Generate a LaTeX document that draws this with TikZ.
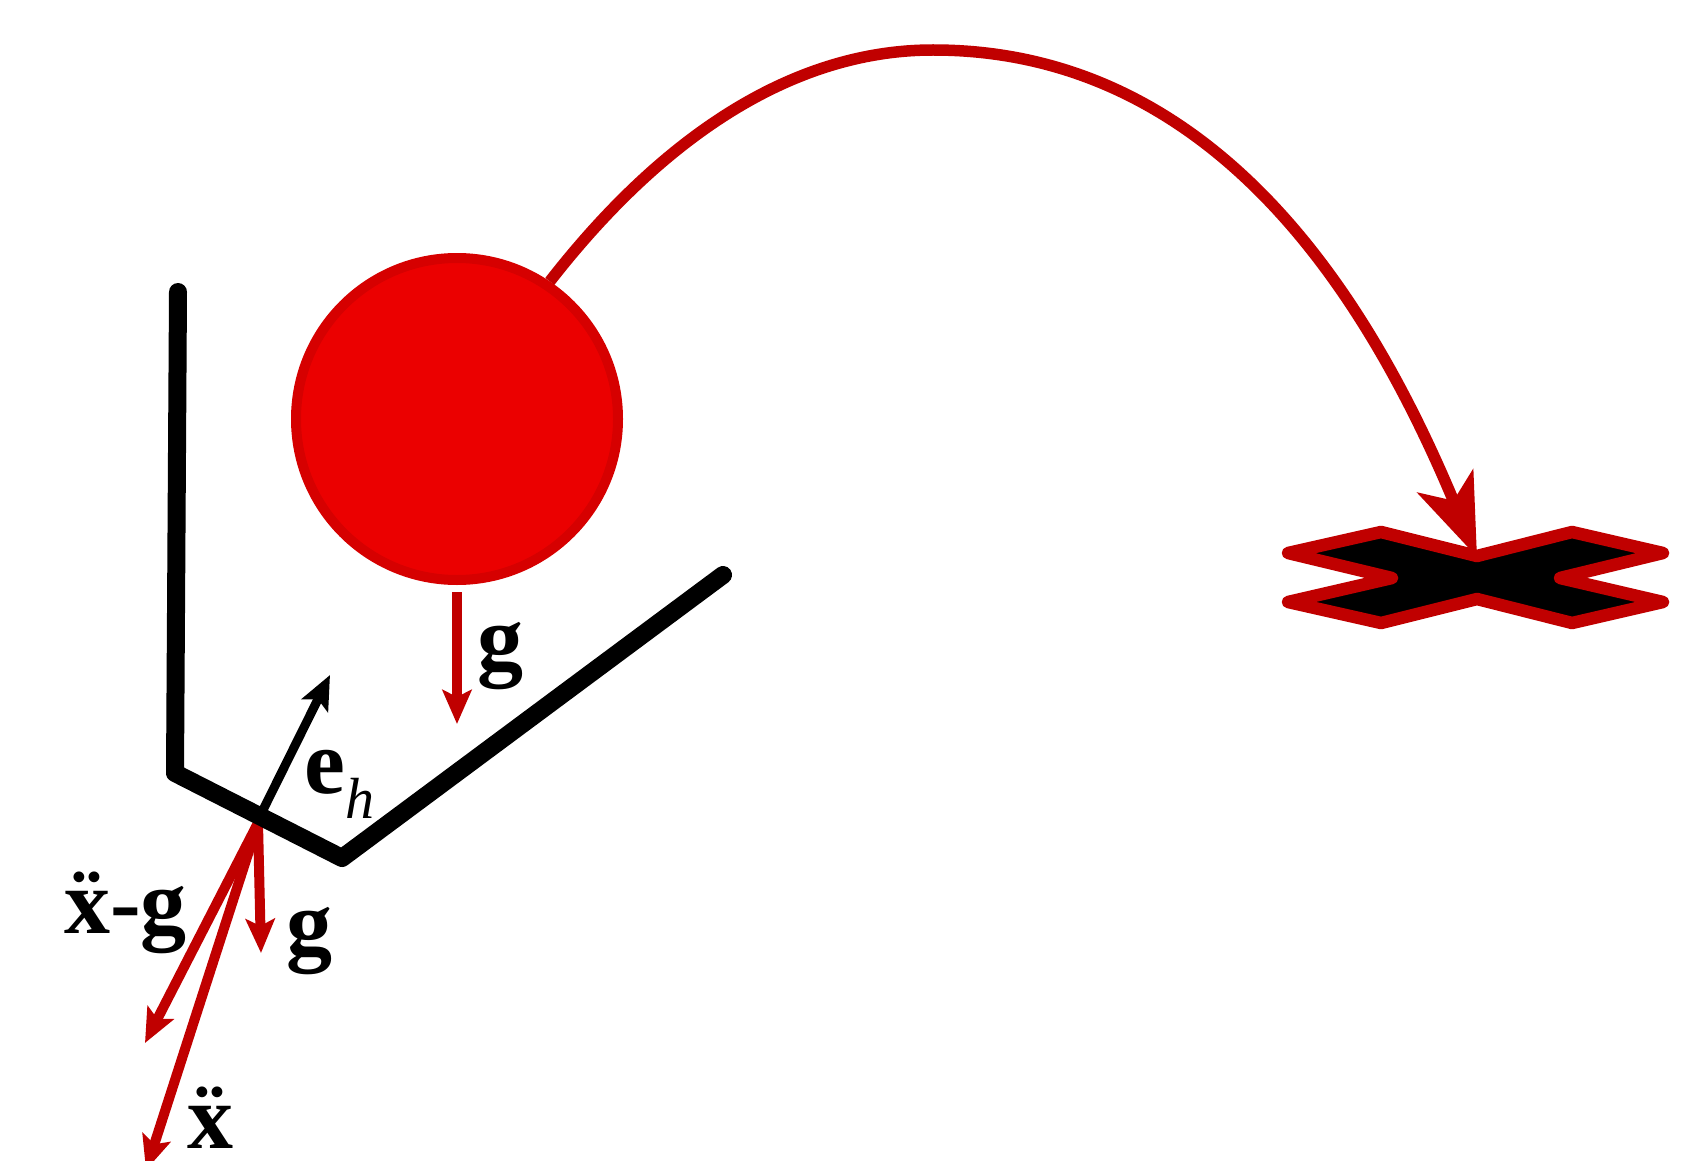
\documentclass[tikz,border=0pt]{standalone}
\usepackage{fontspec}
\setmainfont{Liberation Serif}
\usetikzlibrary{arrows.meta,calc}
\definecolor{arrred}{HTML}{C00000}
\definecolor{ballfill}{HTML}{EB0000}
\definecolor{ballline}{HTML}{D60000}
\begin{document}
\begin{tikzpicture}[x=1pt,y=-1pt,
  wallline/.style={line width=18pt,line cap=round,line join=round,black},
  redvec/.style={arrred,line width=10pt,-{Stealth[length=34pt,width=29pt,inset=7pt]}},
  blackvec/.style={black,line width=9pt,-{Stealth[length=34pt,width=29pt,inset=7pt]}},
  lab/.style={inner sep=0pt,anchor=base west,font=\fontsize{92}{92}\selectfont\bfseries},
  crossshape/.style={fill=black,draw=arrred,line width=12.5pt,line join=round},
  trajectory/.style={arrred,line width=11.5pt,-{Stealth[length=82pt,width=60pt,inset=21pt]}},
]
\clip (0,0) rectangle (1699,1161);
% coordinates
\coordinate (wtop) at (178,292);
\coordinate (corner) at (175,773);
\coordinate (vtx) at (342,858);
\coordinate (fend) at (723,575);
\coordinate (o) at (258,823);
\coordinate (eb) at (262,812);
\coordinate (et) at (330,675);
\coordinate (gt) at (261,953);
\coordinate (xgt) at (145,1043);
\coordinate (xt) at (146,1170);
\coordinate (peak) at (933,50);
\coordinate (target) at (1477,557);
% red vectors at the contact point
\draw[redvec] (o) -- (gt);
\draw[redvec] (o) -- (xgt);
\draw[redvec] (o) -- (xt);
% wall and floor
\draw[wallline] (wtop) -- (corner) -- (vtx) -- (fend);
% normal vector
\draw[blackvec] (eb) -- (et);
% ball
\node[circle,inner sep=0pt,minimum size=322pt,fill=ballfill,draw=ballline,line width=10pt] (ball) at (457,419) {};
\draw[redvec] ([yshift=-7pt]ball.south) -- (457,724);
% landing cross
\draw[crossshape] (1381,532) -- (1477,556) -- (1572,532) -- (1663,553) -- (1560,578) -- (1663,602)
  -- (1572,623) -- (1477,599) -- (1381,623) -- (1288,602) -- (1392,578) -- (1288,553) -- cycle;
% trajectory
\draw[trajectory] (ball.56) .. controls (660,140) and (790,50) .. (peak)
  .. controls (1230,50) and (1380,325) .. (target);
% labels
\node[lab] (lxg) at (64,933) {\"x-g};
\node[lab] (lg1) at (286,954) {g};
\node[lab] (lg2) at (477,669) {g};
\node[lab] (lx) at (187,1148) {\"x};
\node[lab] (leh) at (304,793) {e\raisebox{-25pt}{\fontsize{58}{58}\selectfont\mdseries\itshape h}};
\end{tikzpicture}
\end{document}
